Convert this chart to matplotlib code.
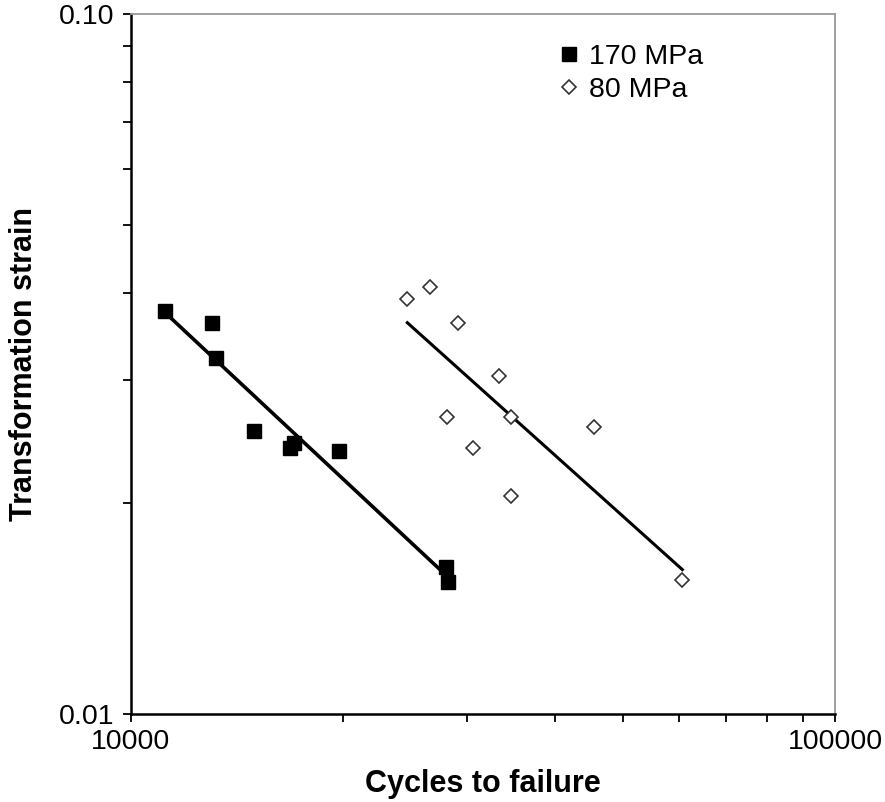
import numpy as np
import matplotlib
matplotlib.use('Agg')
import matplotlib.pyplot as plt
from matplotlib.ticker import FixedLocator, FixedFormatter, LogLocator, NullFormatter

plt.rcParams['font.family'] = ['Liberation Sans', 'DejaVu Sans']

# 170 MPa
cycles_170 = [11175, 13020, 13204, 14951, 16823, 17060, 19725, 27990, 28180]
strain_170 = [0.03764, 0.03614, 0.03222, 0.02540, 0.02396, 0.02441, 0.02377, 0.01623, 0.01545]

# 80 MPa
cycles_80 = [24690, 26600, 29140, 33370, 28080, 34630, 45460, 30640, 34660, 60700]
strain_80 = [0.03916, 0.04077, 0.03614, 0.03040, 0.02659, 0.02654, 0.02569, 0.02396, 0.02050, 0.01554]


def power_fit(x, y):
    # straight line in log-log space (power trendline)
    lx, ly = np.log10(x), np.log10(y)
    coef = np.polyfit(lx, ly, 1)
    xs = np.array([min(x), max(x)])
    return xs, 10 ** np.polyval(coef, np.log10(xs))


fig = plt.figure(figsize=(8.85, 8.02), dpi=100)
ax = fig.add_axes([0.148, 0.1097, 0.7955, 0.8728])

ax.plot(cycles_170, strain_170, 's', color='black', markersize=10.5,
        label='170 MPa', zorder=3)
ax.plot(cycles_80, strain_80, 'D', markerfacecolor='white', markeredgecolor='#333333',
        markeredgewidth=1.2, markersize=7.3, label='80 MPa', zorder=3)

xs, ys = power_fit(cycles_170, strain_170)
ax.plot(xs, ys, color='black', linewidth=2.6)
xs, ys = power_fit(cycles_80, strain_80)
ax.plot(xs, ys, color='black', linewidth=2.2)

ax.set_xscale('log')
ax.set_yscale('log')
ax.set_xlim(10000, 100000)
ax.set_ylim(0.01, 0.10)

ax.xaxis.set_major_locator(FixedLocator([10000, 100000]))
ax.xaxis.set_major_formatter(FixedFormatter(['10000', '100000']))
ax.xaxis.set_minor_locator(LogLocator(base=10, subs=np.arange(2, 10)))
ax.xaxis.set_minor_formatter(NullFormatter())
ax.yaxis.set_major_locator(FixedLocator([0.01, 0.10]))
ax.yaxis.set_major_formatter(FixedFormatter(['0.01', '0.10']))
ax.yaxis.set_minor_locator(LogLocator(base=10, subs=np.arange(2, 10)))
ax.yaxis.set_minor_formatter(NullFormatter())

ax.tick_params(which='both', direction='out', length=6, width=1.3, color='black',
               labelsize=20.5, pad=6)
ax.tick_params(axis='x', which='major', pad=5)

for side in ['left', 'bottom']:
    ax.spines[side].set_color('black')
    ax.spines[side].set_linewidth(1.8)
for side in ['top', 'right']:
    ax.spines[side].set_color('#999999')
    ax.spines[side].set_linewidth(1.3)

ax.set_xlabel('Cycles to failure', fontsize=22, fontweight='bold', labelpad=10)
ax.set_ylabel('Transformation strain', fontsize=22, fontweight='bold', labelpad=14)

leg = ax.legend(loc='upper left', bbox_to_anchor=(0.57, 0.99), frameon=False,
                fontsize=20.5, handletextpad=0.2, handlelength=1.0, labelspacing=0.25,
                borderpad=0.3)

fig.savefig('out.png', dpi=100)
